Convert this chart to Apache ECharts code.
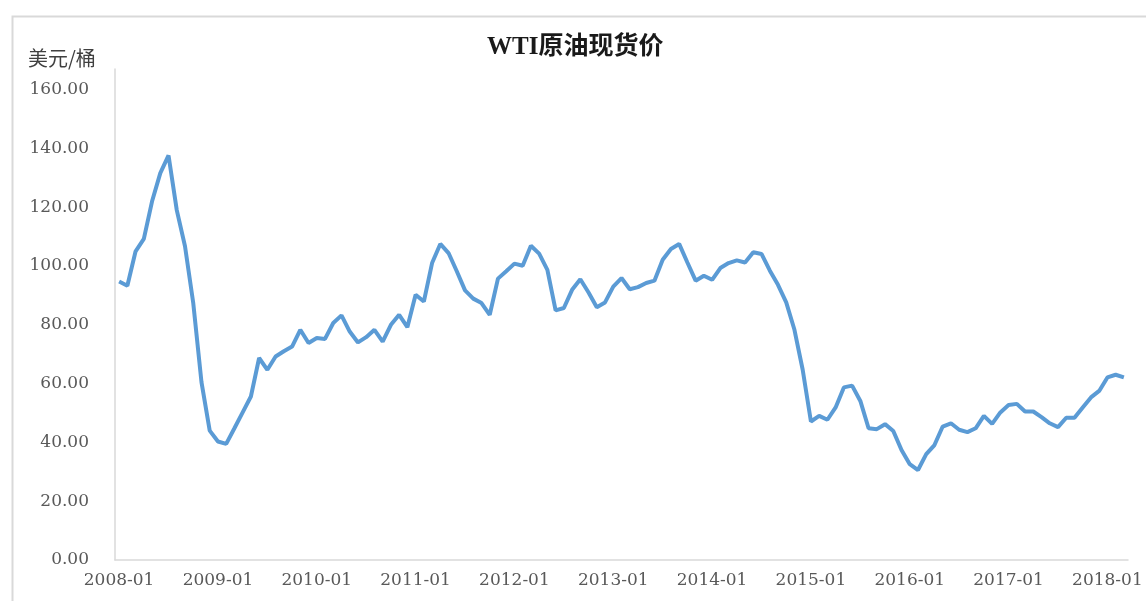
<!DOCTYPE html>
<html>
<head>
<meta charset="utf-8">
<script src="https://cdn.jsdelivr.net/npm/echarts@6/dist/echarts.min.js"></script>
<style>
  html, body { margin: 0; padding: 0; background: #fff; }
  #main { width: 1146px; height: 601px; }
</style>
</head>
<body>
<div id="main"></div>
<script>
// 月份 2008-01 ~ 2018-03
var months = [];
for (var y = 2008; y <= 2018; y++) {
  for (var m = 1; m <= 12; m++) {
    if (y === 2018 && m > 3) break;
    months.push(y + '-' + (m < 10 ? '0' + m : m));
  }
}

// WTI原油现货价（美元/桶）
var prices = [
  94.7, 93.3, 105.0, 109.2, 122.0, 131.6, 137.6, 119.0, 106.7, 87.4, 60.5, 44.0,
  40.3, 39.5, 44.8, 50.2, 55.6, 68.7, 64.7, 69.2, 71.0, 72.6, 78.3, 73.8,
  75.5, 75.2, 80.6, 83.2, 77.7, 74.0, 75.8, 78.3, 74.3, 80.0, 83.4, 79.2,
  90.2, 87.9, 101.0, 107.5, 104.4, 98.2, 91.7, 88.9, 87.4, 83.4, 95.7, 98.2,
  100.8, 100.1, 106.9, 104.2, 98.7, 84.9, 85.7, 91.9, 95.5, 91.0, 86.0, 87.6,
  93.0, 95.9, 92.1, 92.8, 94.2, 95.0, 102.1, 105.8, 107.5, 101.2, 95.0, 96.7,
  95.3, 99.3, 101.0, 101.9, 101.2, 104.7, 104.1, 98.5, 93.6, 87.6, 78.3, 64.7,
  47.1, 49.0, 47.7, 51.9, 58.7, 59.3, 54.1, 44.8, 44.5, 46.2, 43.9, 37.4,
  32.6, 30.6, 36.0, 39.1, 45.4, 46.5, 44.3, 43.5, 44.8, 49.0, 46.3, 50.2,
  52.7, 53.1, 50.5, 50.5, 48.6, 46.5, 45.2, 48.4, 48.4, 51.9, 55.3, 57.5,
  62.1, 63.0, 62.1
];

var yMin = 0, yMax = 167, yStep = 20;

drawChart()

function drawChart() {
  var myChart = echarts.init(document.getElementById('main'));

  var option = {
    backgroundColor: '#fff',
    animation: false,
    title: [{
      text: 'WTI原油现货价',
      left: 482,
      top: 30,
      textStyle: {
        fontFamily: '"Liberation Serif", "Noto Sans CJK SC"',
        fontWeight: 'bold',
        fontSize: 25,
        color: '#1a1a1a'
      }
    }, {
      text: '美元/桶',
      left: 23,
      top: 43,
      textStyle: {
        fontFamily: '"Noto Sans CJK SC"',
        fontWeight: 'normal',
        fontSize: 20,
        color: '#404040'
      }
    }],
    graphic: [{
      type: 'rect',
      left: 10,
      top: 14,
      shape: { width: 1200, height: 700 },
      style: { fill: 'none', stroke: '#d9d9d9', lineWidth: 2 },
      silent: true,
      z: -10
    }],
    grid: {
      left: 115,
      right: 18,
      top: 69,
      bottom: 41
    },
    xAxis: {
      type: 'category',
      data: months,
      boundaryGap: true,
      axisLine: { lineStyle: { color: '#d9d9d9', width: 1.5 } },
      axisTick: { interval: 11, length: 7, lineStyle: { color: '#d9d9d9', width: 1.5 } },
      axisLabel: {
        interval: 11,
        margin: 12,
        fontFamily: '"DejaVu Serif"',
        fontSize: 17,
        color: '#595959'
      },
      splitLine: { show: false }
    },
    yAxis: {
      type: 'value',
      min: yMin,
      max: yMax,
      interval: yStep,
      axisLine: { show: true, lineStyle: { color: '#d9d9d9', width: 1.5 } },
      axisTick: { show: false },
      axisLabel: {
        showMaxLabel: false,
        margin: 26,
        fontFamily: '"DejaVu Serif"',
        fontSize: 17,
        color: '#595959',
        formatter: function (v) { return v.toFixed(2); }
      },
      splitLine: { show: false }
    },
    series: [{
      name: 'WTI原油现货价',
      type: 'line',
      data: prices,
      showSymbol: false,
      smooth: false,
      lineStyle: { color: '#5B9BD5', width: 4 },
      itemStyle: { color: '#5B9BD5' }
    }]
  };

  myChart.setOption(option);
}
</script>
</body>
</html>
